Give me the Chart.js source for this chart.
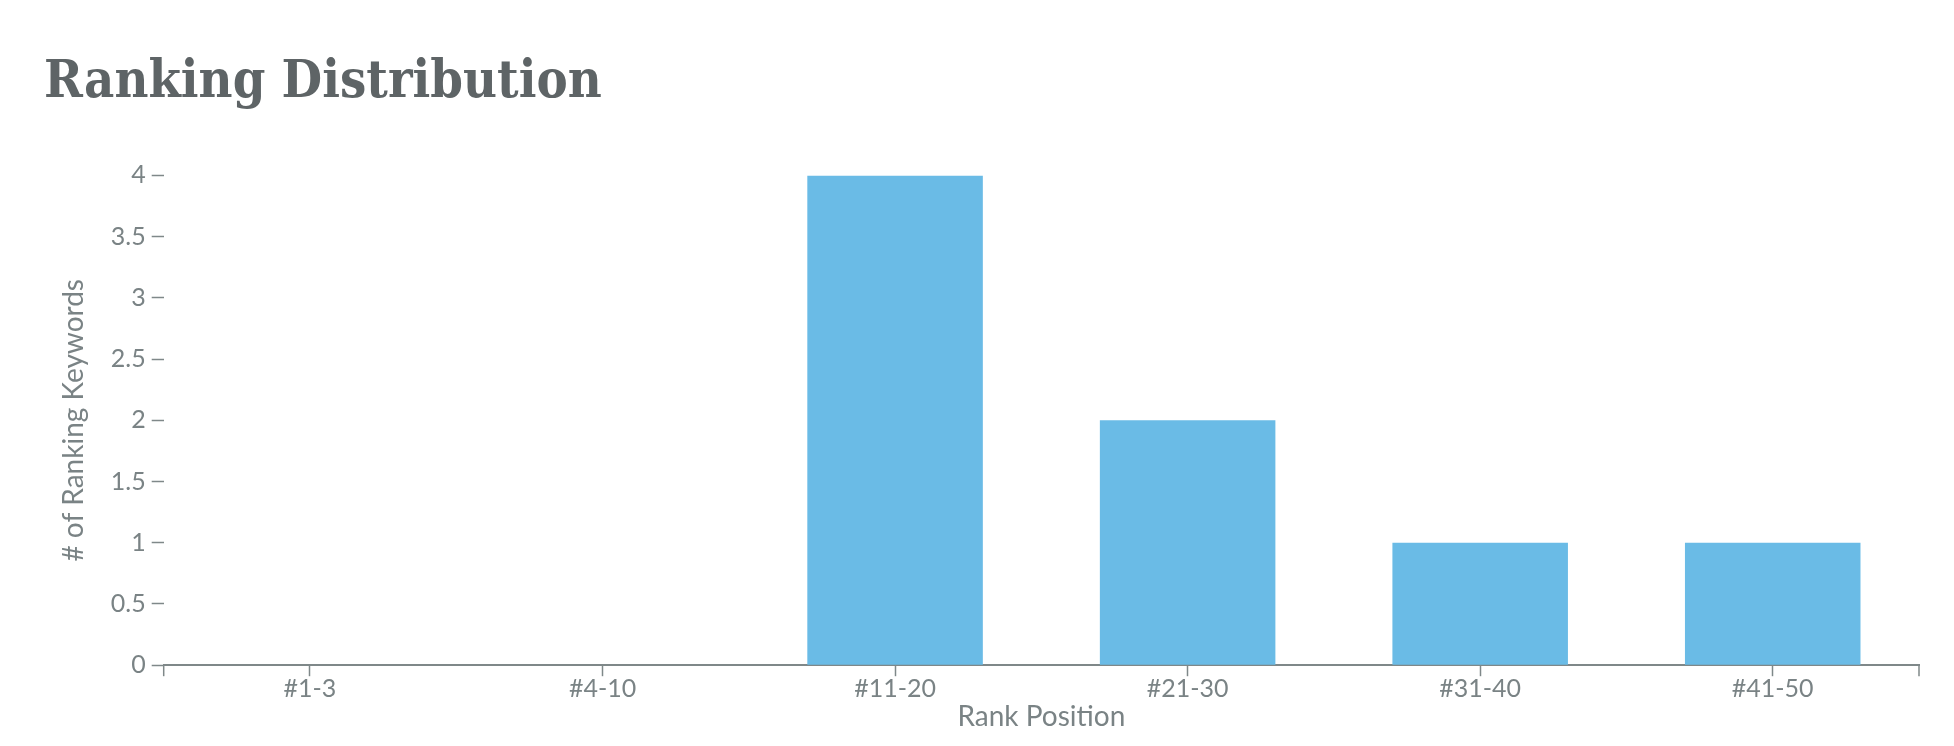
<!DOCTYPE html>
<html>
<head>
<meta charset="utf-8">
<title>Ranking Distribution</title>
<script src="https://cdn.jsdelivr.net/npm/chart.js@4/dist/chart.umd.min.js"></script>
<style>
  html, body { margin: 0; padding: 0; background: #fff; }
  #wrap { width: 1954px; height: 746px; position: relative; }
</style>
</head>
<body>
<div id="wrap"><canvas id="canvas"></canvas></div>
<script>
var rankLabels = ['#1-3', '#4-10', '#11-20', '#21-30', '#31-40', '#41-50'];
var keywordCounts = [0, 0, 4, 2, 1, 1];
var yMin = 0, yMax = 4, yStep = 0.5;

var axisGrey = '#7f8889';
var textGrey = '#7a8385';

// d3-style outer ticks at both ends of the x domain
var endTicks = {
    id: 'endTicks',
    afterDraw: function (chart) {
        var ctx = chart.ctx, a = chart.chartArea;
        ctx.save();
        ctx.strokeStyle = axisGrey;
        ctx.lineWidth = 1.5;
        [a.left, a.right].forEach(function (x) {
            ctx.beginPath();
            ctx.moveTo(x, a.bottom);
            ctx.lineTo(x, a.bottom + 11);
            ctx.stroke();
        });
        ctx.restore();
    }
};

window.onload = function () {
    var ctx = document.getElementById('canvas').getContext('2d');
    window.rankChart = new Chart(ctx, {
        type: 'bar',
        data: {
            labels: rankLabels,
            datasets: [{
                label: '# of Ranking Keywords',
                data: keywordCounts,
                backgroundColor: '#6abbe6',
                borderWidth: 0,
                barPercentage: 0.6,
                categoryPercentage: 1.0
            }]
        },
        plugins: [endTicks],
        options: {
            responsive: true,
            maintainAspectRatio: false,
            animation: false,
            layout: { padding: { left: 44, right: 35, top: 52, bottom: 14 } },
            plugins: {
                legend: { display: false },
                tooltip: { enabled: false },
                title: {
                    display: true,
                    text: 'Ranking Distribution',
                    align: 'start',
                    color: '#5e6466',
                    font: { family: "'DejaVu Serif Condensed', 'DejaVu Serif', serif", size: 52, weight: 'bold' },
                    padding: { top: 0, bottom: 61 }
                }
            },
            scales: {
                x: {
                    offset: true,
                    grid: { display: true, offset: false, drawOnChartArea: false, drawTicks: true, tickLength: 11, tickColor: axisGrey, tickWidth: 1.5 },
                    border: { display: true, color: axisGrey, width: 2 },
                    ticks: { color: textGrey, padding: 0, font: { family: 'Lato', size: 25, lineHeight: 1.0 } },
                    title: { display: true, text: 'Rank Position', color: textGrey, padding: { top: 0, bottom: 0 }, font: { family: 'Lato', size: 28, lineHeight: 1.1 } }
                },
                y: {
                    min: yMin,
                    max: yMax,
                    grid: { display: true, drawOnChartArea: false, drawTicks: true, tickLength: 12, tickColor: axisGrey, tickWidth: 1.5 },
                    border: { display: false },
                    ticks: {
                        stepSize: yStep,
                        color: textGrey,
                        padding: 6,
                        font: { family: 'Lato', size: 25 },
                        callback: function (value) { return String(value); }
                    },
                    title: { display: true, text: '# of Ranking Keywords', color: textGrey, padding: { top: 15, bottom: 15 }, font: { family: 'Lato', size: 28, lineHeight: 1.1 } }
                }
            }
        }
    });
};
</script>
</body>
</html>
